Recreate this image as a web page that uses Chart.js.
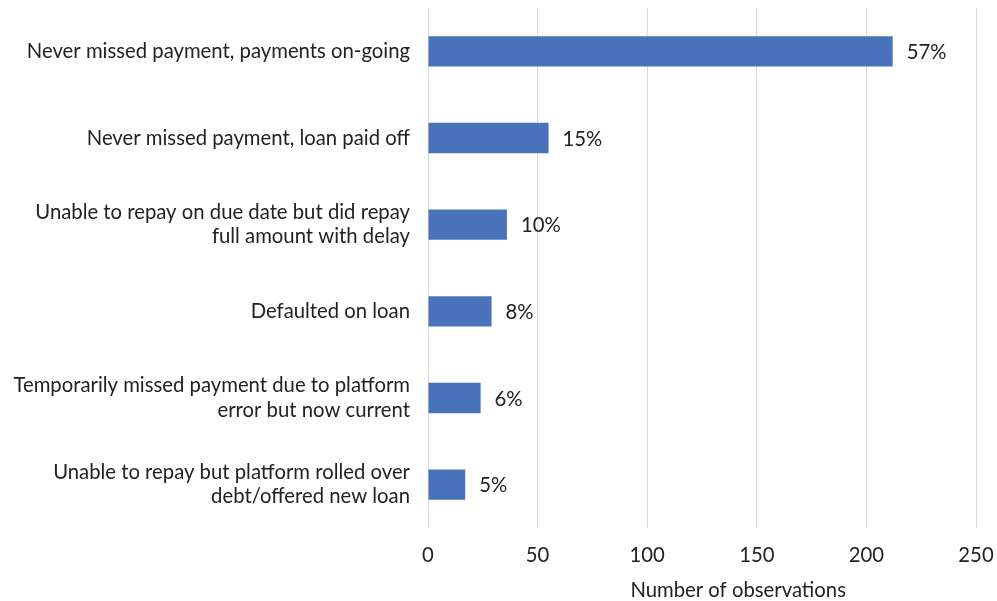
<!DOCTYPE html>
<html>
<head>
<meta charset="utf-8">
<script src="https://cdn.jsdelivr.net/npm/chart.js@4.4.1/dist/chart.umd.min.js"></script>
<style>
  html, body { margin: 0; padding: 0; background: #fff; }
  #wrap { width: 997px; height: 601px; }
</style>
</head>
<body>
<div id="wrap"><canvas id="chart"></canvas></div>
<script>
const categories = [
  'Never missed payment, payments on-going',
  'Never missed payment, loan paid off',
  ['Unable to repay on due date but did repay', 'full amount with delay'],
  'Defaulted on loan',
  ['Temporarily missed payment due to platform', 'error but now current'],
  ['Unable to repay but platform rolled over', 'debt/offered new loan'],
];
const observations = [212, 55, 36, 29, 24, 17];
const shareLabels = ['57%', '15%', '10%', '8%', '6%', '5%'];
const xTicks = [0, 50, 100, 150, 200, 250];
const xTitle = 'Number of observations';

const TEXT = '#222';
const FONT = 'Lato';
const SIZE = 20.3;

// share next to the end of each bar, plus the x axis caption
const barLabels = {
  id: 'barLabels',
  afterDatasetsDraw(chart) {
    const ctx = chart.ctx;
    const meta = chart.getDatasetMeta(0);
    ctx.save();
    ctx.font = `${SIZE}px ${FONT}`;
    ctx.fillStyle = TEXT;
    ctx.textAlign = 'left';
    ctx.textBaseline = 'middle';
    meta.data.forEach((bar, i) => {
      ctx.fillText(shareLabels[i], bar.x + 14, bar.y + 1);
    });
    // caption sits a bit right of the axis centre
    const x = chart.scales.x;
    ctx.textAlign = 'center';
    ctx.fillText(xTitle, x.getPixelForValue(141.5), x.bottom - 11);
    ctx.restore();
  }
};

new Chart(document.getElementById('chart'), {
  type: 'bar',
  data: {
    labels: categories,
    datasets: [{
      data: observations,
      backgroundColor: '#4872B9',
      barPercentage: 0.7,
      categoryPercentage: 0.5,
    }]
  },
  options: {
    indexAxis: 'y',
    responsive: true,
    maintainAspectRatio: false,
    animation: false,
    layout: { padding: { top: 8, right: 21, bottom: 0, left: 0 } },
    plugins: {
      legend: { display: false },
      tooltip: { enabled: false },
    },
    scales: {
      x: {
        min: 0,
        max: 250,
        afterBuildTicks: s => { s.ticks = xTicks.map(v => ({ value: v })); },
        afterFit: s => {
          s.height = 73;
          s.paddingLeft = 0;
          s.paddingRight = 0;
        },
        grid: { color: '#d9d9d9', drawTicks: false },
        border: { display: false },
        ticks: {
          color: TEXT,
          font: { family: FONT, size: SIZE },
          padding: 15,
        },
      },
      y: {
        afterFit: s => {
          s.width = 428;
          s.paddingTop = 0;
          s.paddingBottom = 0;
        },
        grid: { display: false, drawTicks: false },
        border: { display: false },
        ticks: {
          color: TEXT,
          font: { family: FONT, size: SIZE, lineHeight: 1.2 },
          padding: 18,
        },
      },
    },
  },
  plugins: [barLabels],
});
</script>
</body>
</html>
